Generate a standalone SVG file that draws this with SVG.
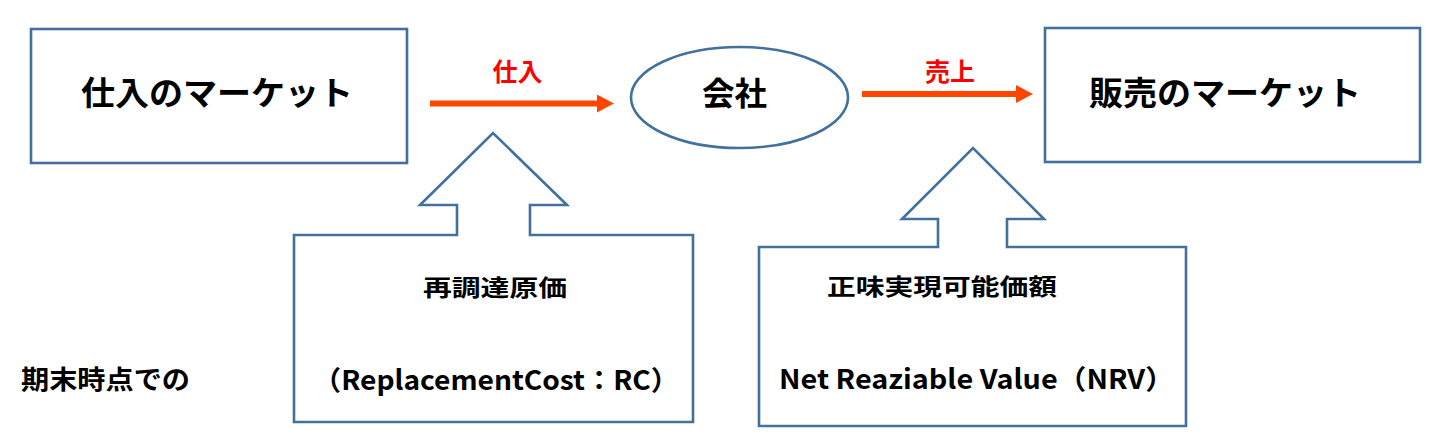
<svg xmlns="http://www.w3.org/2000/svg" width="1446" height="445" viewBox="0 0 1446 445">
<style>
.shape{fill:#ffffff;stroke:#41719C;stroke-width:2.6}
.t{font-family:"Noto Sans CJK JP","Noto Sans",sans-serif;font-weight:bold;fill:#000000}
.red{font-family:"Noto Sans CJK JP","Noto Sans",sans-serif;font-weight:bold;fill:#FF0000;font-size:25px;text-anchor:middle}
.flow{stroke:#FF4500;stroke-width:6;fill:none}
</style>
<defs>
<marker id="ah" markerUnits="userSpaceOnUse" markerWidth="17" markerHeight="18" refX="0" refY="9" orient="auto">
<path d="M0,0 L17,9 L0,18 Z" fill="#FF4500"/>
</marker>
</defs>
<rect width="1446" height="445" fill="#ffffff"/>
<g id="purchase-market">
<rect class="shape" x="31" y="29" width="376" height="134"/>
<text class="t" x="81" y="105" font-size="33" textLength="272" lengthAdjust="spacingAndGlyphs">仕入のマーケット</text>
</g>
<g id="company">
<ellipse class="shape" cx="739.5" cy="97.5" rx="108.5" ry="50.5"/>
<text class="t" x="702" y="105" font-size="32" textLength="65" lengthAdjust="spacingAndGlyphs">会社</text>
</g>
<g id="sales-market">
<rect class="shape" x="1045" y="28" width="375" height="134"/>
<text class="t" x="1089" y="105" font-size="33" textLength="272" lengthAdjust="spacingAndGlyphs">販売のマーケット</text>
</g>
<g id="replacement-cost">
<path class="shape" d="M294,235 H457 V205 H420 L493,133 L567,205 H530 V235 H693 V422 H294 Z"/>
<text class="t" x="423" y="296" font-size="23" textLength="144" lengthAdjust="spacingAndGlyphs">再調達原価</text>
<text class="t" x="313" y="390" font-size="27" textLength="366" lengthAdjust="spacingAndGlyphs">（ReplacementCost：RC）</text>
</g>
<g id="net-realizable-value">
<path class="shape" d="M759,247 H938 V219 H902 L973,148 L1044,219 H1007 V247 H1186 V426 H759 Z"/>
<text class="t" x="827" y="295" font-size="23" textLength="230" lengthAdjust="spacingAndGlyphs">正味実現可能価額</text>
<text class="t" x="779" y="389" font-size="27" textLength="395" lengthAdjust="spacingAndGlyphs">Net Reaziable Value（NRV）</text>
</g>
<g id="period-end-label">
<text class="t" x="21" y="389" font-size="26" textLength="169" lengthAdjust="spacingAndGlyphs">期末時点での</text>
</g>
<g id="connectors">
<line class="flow" x1="430" y1="103.5" x2="597" y2="103.5" marker-end="url(#ah)"/>
<text class="red" x="517.5" y="81">仕入</text>
<line class="flow" x1="862" y1="94" x2="1016" y2="94" marker-end="url(#ah)"/>
<text class="red" x="950" y="81">売上</text>
</g>
</svg>
